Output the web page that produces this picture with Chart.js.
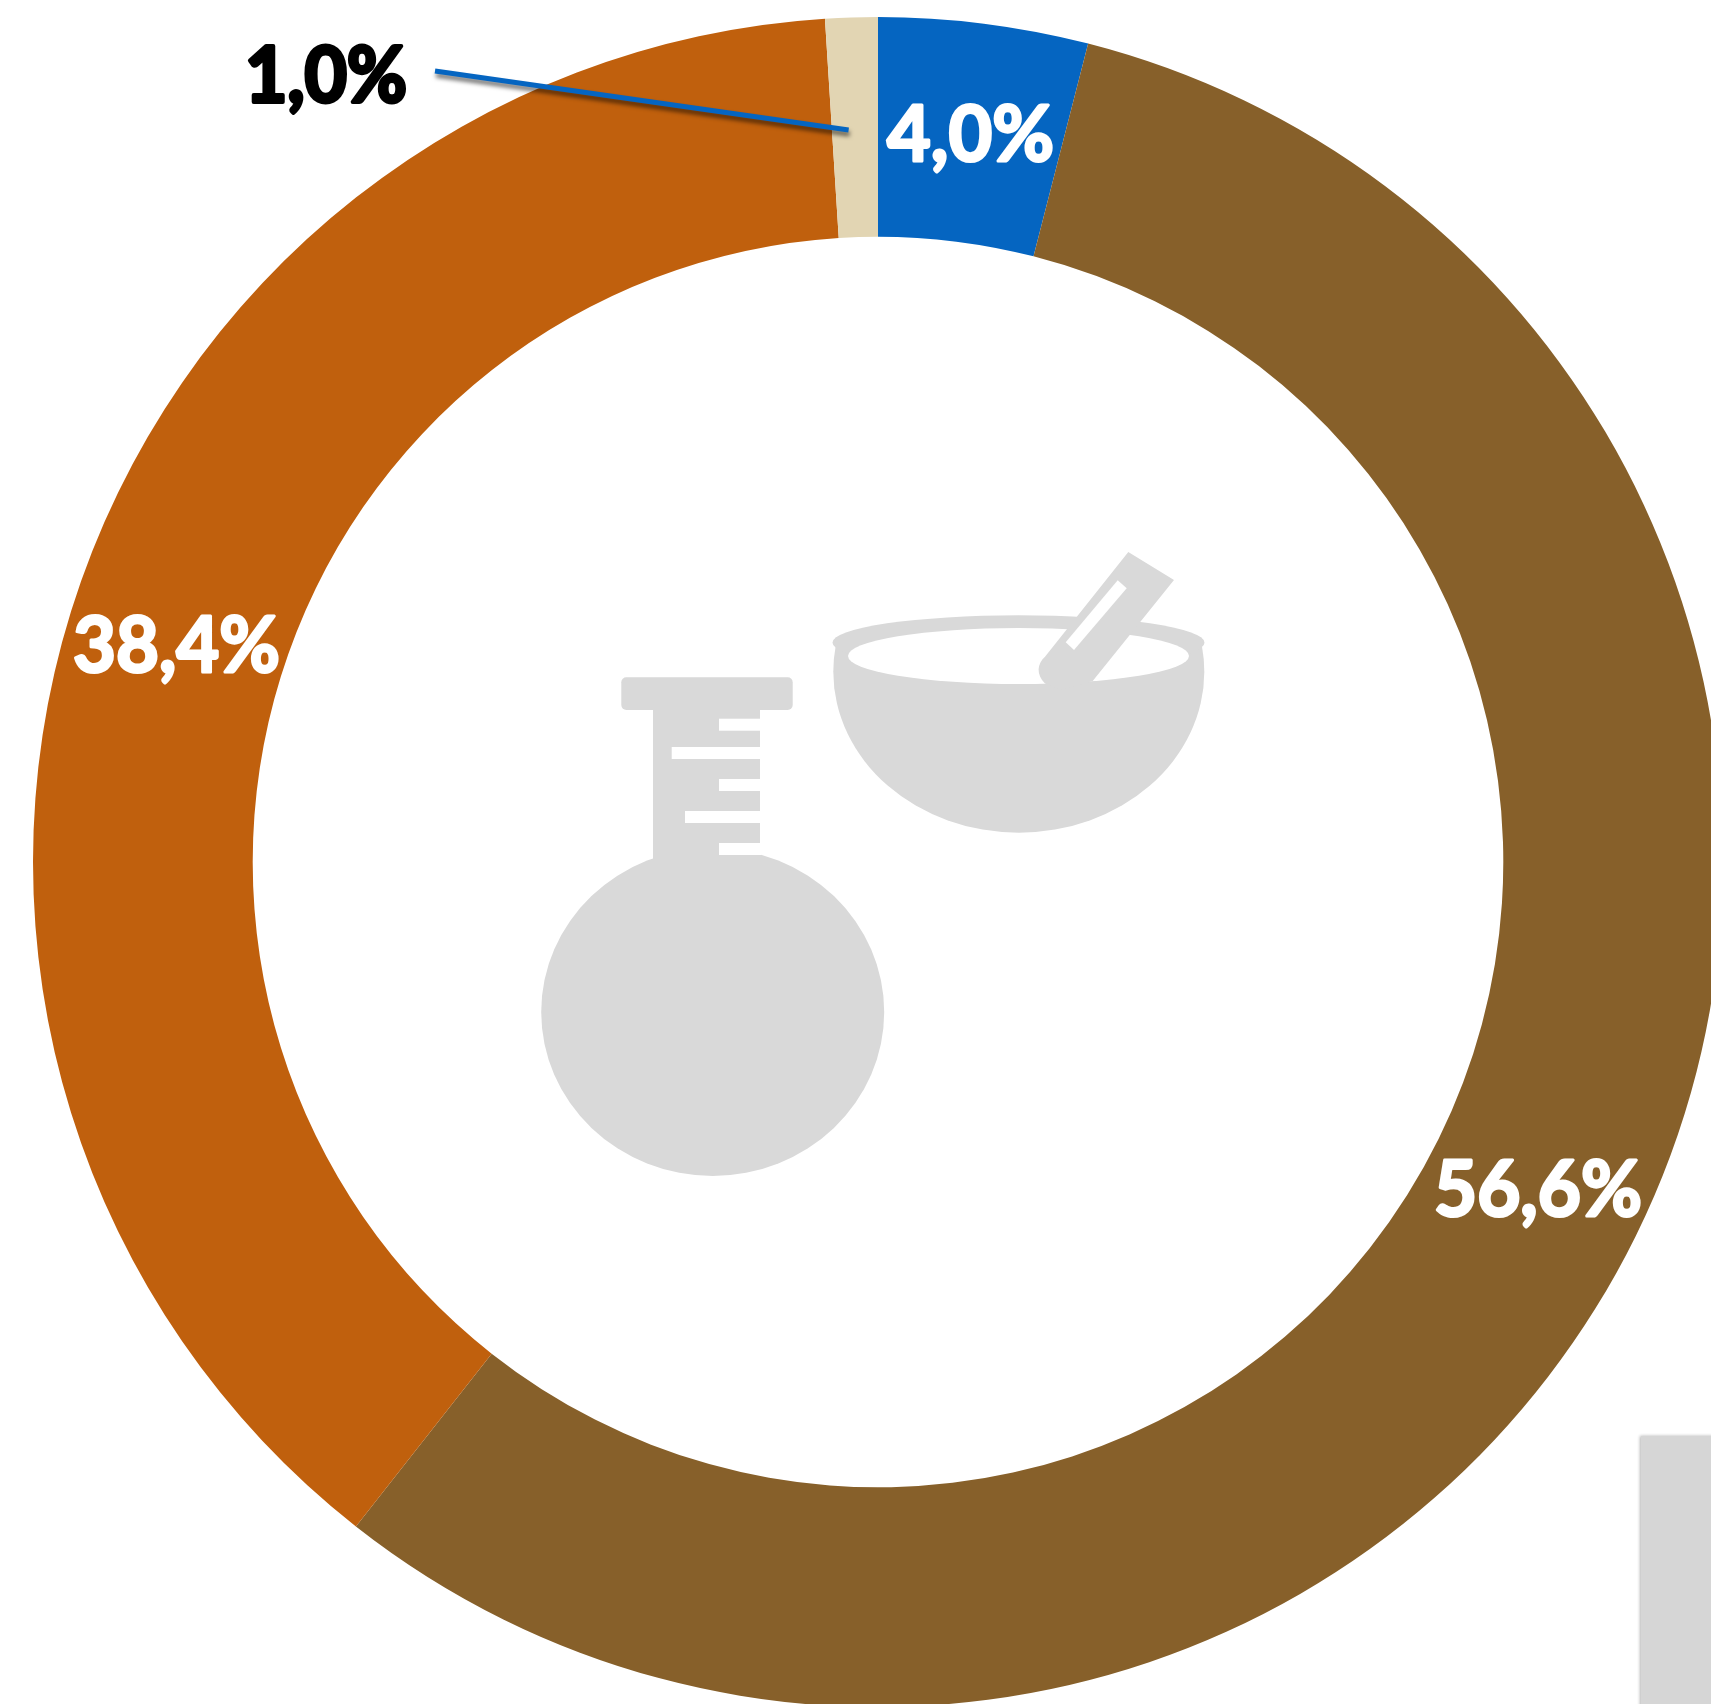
<!DOCTYPE html>
<html>
<head>
<meta charset="utf-8">
<title>Doughnut</title>
<script src="https://cdn.jsdelivr.net/npm/chart.js@4"></script>
<style>
  html, body { margin: 0; padding: 0; background: #fff; overflow: hidden; width: 1711px; height: 1704px; }
  canvas { display: block; }
</style>
</head>
<body>
<canvas id="ring" width="1756" height="1724"></canvas>
<script>
const categories = ["Azul", "Marrón", "Naranja", "Beige"];
const shares = [4.0, 56.6, 38.4, 1.0];
const sliceColors = ["#0565C1", "#87602A", "#C0600D", "#E2D5B3"];

const GREY = "#D9D9D9";

function pct(v) {
  return v.toFixed(1).replace(".", ",") + "%";
}

// left, baseline and overall width of each value label, same order as shares
const labelSpots = [
  { x: 887, y: 161, w: 167, color: "#fff", weight: 3 },
  { x: 1434, y: 1216, w: 208, color: "#fff", weight: 3 },
  { x: 73, y: 672, w: 207, color: "#fff", weight: 3 },
  { x: 245, y: 102, w: 162, color: "#000", weight: 4 }
];

function fittedText(ctx, text, spot) {
  ctx.save();
  ctx.font = "bold 77px Lato";
  ctx.textAlign = "left";
  ctx.textBaseline = "alphabetic";
  ctx.fillStyle = spot.color;
  ctx.strokeStyle = spot.color;
  ctx.lineWidth = spot.weight;
  ctx.lineJoin = "round";
  let sx = spot.w / ctx.measureText(text).width;
  ctx.translate(spot.x, spot.y);
  ctx.scale(sx, 1);
  ctx.fillText(text, 0, 0);
  ctx.strokeText(text, 0, 0);
  ctx.restore();
}

function drawFlask(ctx) {
  ctx.fillStyle = GREY;
  ctx.beginPath();
  ctx.ellipse(712.7, 1012, 171.5, 164, 0, 0, Math.PI * 2);
  ctx.fill();
  ctx.beginPath();
  ctx.roundRect(621.3, 677.3, 171.4, 32.7, 5);
  ctx.fill();
  ctx.fillRect(653, 705, 107, 160);
  // graduation marks cut out of the neck
  ctx.fillStyle = "#fff";
  const marks = [[719, 718.7], [671.7, 747], [719, 779], [685, 811], [719, 843]];
  marks.forEach(m => ctx.fillRect(m[0], m[1], 761 - m[0], 12));
}

function drawMortar(ctx) {
  ctx.fillStyle = GREY;
  // bowl
  ctx.save();
  ctx.beginPath();
  ctx.rect(820, 646, 400, 200);
  ctx.clip();
  ctx.beginPath();
  ctx.ellipse(1018.8, 671.7, 185.5, 161, 0, 0, Math.PI * 2);
  ctx.fill();
  ctx.restore();
  // rim
  ctx.beginPath();
  ctx.ellipse(1018.5, 642.7, 186, 27.4, 0, 0, Math.PI * 2);
  ctx.fill();
  ctx.fillStyle = "#fff";
  ctx.beginPath();
  ctx.ellipse(1018.5, 656, 170.5, 28, 0, 0, Math.PI * 2);
  ctx.fill();
  // pestle
  ctx.fillStyle = GREY;
  ctx.beginPath();
  ctx.moveTo(1128.3, 552);
  ctx.lineTo(1174, 580);
  ctx.lineTo(1092.7, 681);
  ctx.lineTo(1060, 690);
  ctx.lineTo(1045, 683.5);
  ctx.bezierCurveTo(1036, 674, 1037, 664, 1045, 656.7);
  ctx.closePath();
  ctx.fill();
  ctx.fillStyle = "#fff";
  ctx.beginPath();
  ctx.moveTo(1117.7, 580.3);
  ctx.lineTo(1126.7, 588.3);
  ctx.lineTo(1074, 650);
  ctx.lineTo(1065.7, 642.3);
  ctx.closePath();
  ctx.fill();
}

const decorations = {
  id: "decorations",
  afterDatasetsDraw(chart) {
    const ctx = chart.ctx;
    drawFlask(ctx);
    drawMortar(ctx);

    // block in the lower right corner
    ctx.save();
    ctx.shadowColor = "rgba(0,0,0,0.3)";
    ctx.shadowBlur = 3;
    ctx.shadowOffsetX = -1;
    ctx.fillStyle = "#D6D6D6";
    ctx.fillRect(1641, 1436, 200, 400);
    ctx.restore();

    shares.forEach((v, i) => fittedText(ctx, pct(v), labelSpots[i]));

    // leader for the smallest slice
    ctx.save();
    ctx.shadowColor = "rgba(0,0,0,0.55)";
    ctx.shadowBlur = 4;
    ctx.shadowOffsetX = 1;
    ctx.shadowOffsetY = 4;
    ctx.strokeStyle = "#0565C1";
    ctx.lineWidth = 5;
    ctx.beginPath();
    ctx.moveTo(435, 71);
    ctx.lineTo(848.6, 130);
    ctx.stroke();
    ctx.restore();
  }
};

new Chart(document.getElementById("ring"), {
  type: "doughnut",
  data: {
    labels: categories,
    datasets: [{
      data: shares,
      backgroundColor: sliceColors,
      borderWidth: 0
    }]
  },
  options: {
    responsive: false,
    animation: false,
    cutout: "74%",
    layout: { padding: 17 },
    plugins: {
      legend: { display: false },
      tooltip: { enabled: false }
    }
  },
  plugins: [decorations]
});
</script>
</body>
</html>
